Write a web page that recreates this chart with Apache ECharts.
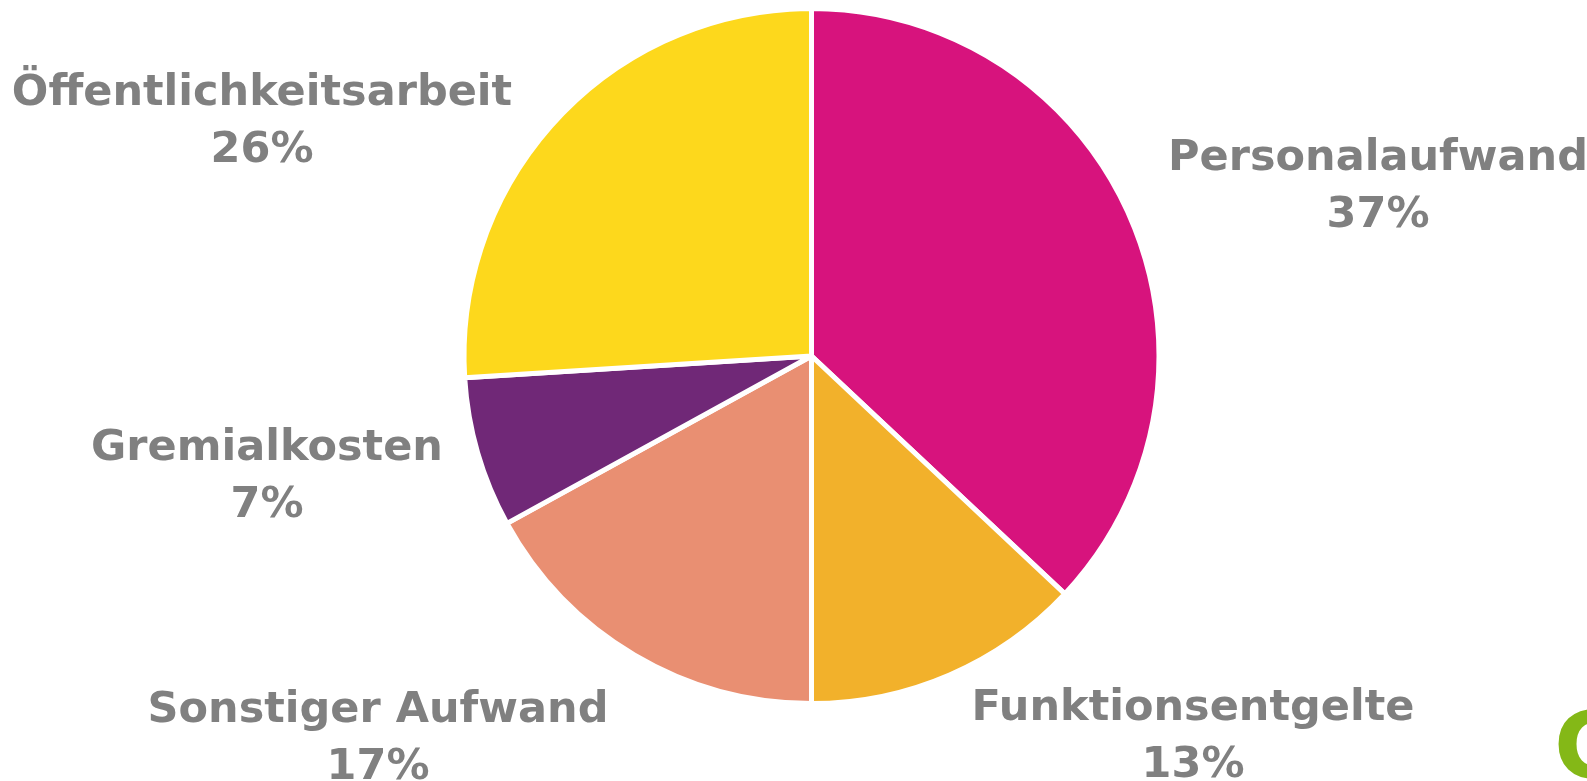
<!DOCTYPE html>
<html>
<head>
<meta charset="utf-8">
<script src="https://cdn.jsdelivr.net/npm/echarts@6/dist/echarts.min.js"></script>
<style>
html,body{margin:0;padding:0;background:#fff;}
#chart{width:1587px;height:781px;}
</style>
</head>
<body>
<div id="chart"></div>
<script>
const categories = ['Personalaufwand', 'Funktionsentgelte', 'Sonstiger Aufwand', 'Gremialkosten', 'Öffentlichkeitsarbeit'];
const values = [37, 13, 17, 7, 26];
const colors = ['#D7137D', '#F2B12B', '#E98F72', '#702877', '#FDD81C'];
// label anchor positions (center x, middle y of the two-line block)
const labelPos = [[1378, 187], [1193, 737], [378, 739], [267, 477], [262, 122]];

const chart = echarts.init(document.getElementById('chart'), null, {renderer: 'canvas'});
const data = categories.map((c, i) => ({name: c, value: values[i], itemStyle: {color: colors[i]}}));
chart.setOption({
  animation: false,
  series: [{
    type: 'pie',
    center: [811.5, 356],
    radius: [0, 347.5],
    startAngle: 90,
    clockwise: true,
    data: data,
    itemStyle: {borderColor: '#fff', borderWidth: 5},
    label: {
      show: true,
      formatter: '{b}\n{d}%',
      fontFamily: 'DejaVu Sans',
      fontWeight: 'bold',
      fontSize: 43,
      lineHeight: 57,
      color: '#808080',
      align: 'center',
      overflow: 'none',
      width: 700
    },
    labelLine: {show: false},
    labelLayout: function (p) {
      const pos = labelPos[p.dataIndex];
      return {x: pos[0], y: pos[1], align: 'center', verticalAlign: 'middle', moveOverlap: null};
    }
  }],
  graphic: [{
    type: 'text',
    left: 1554,
    top: 708,
    style: {text: 'G', fill: '#84B817', font: 'bold 92px "DejaVu Sans"'}
  }]
});
</script>
</body>
</html>
